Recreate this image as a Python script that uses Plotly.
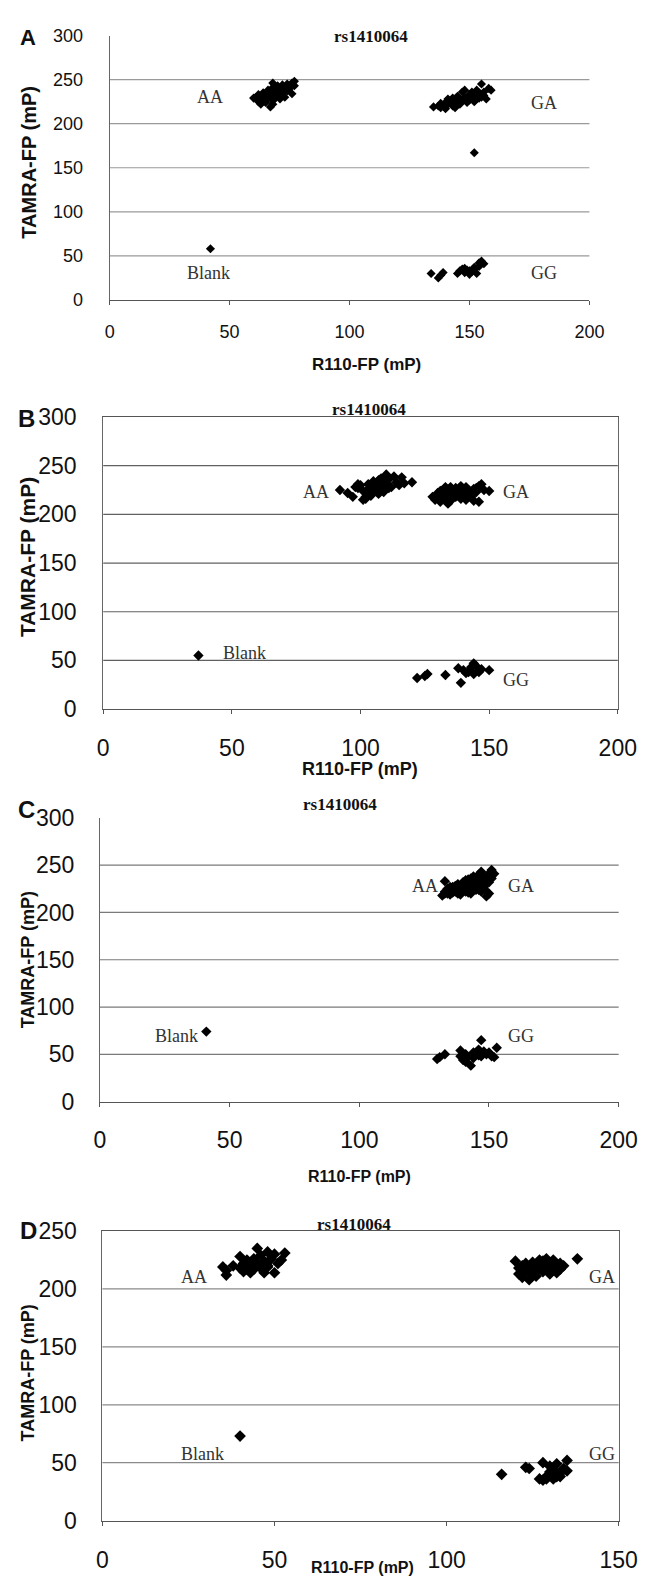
import plotly.graph_objects as go

W, H = 657, 1589

# ---------------- data ----------------
# Panel A
a_aa_x = [61, 62, 62, 63, 63, 64, 64, 65, 65, 66, 66, 67, 67, 68, 68, 68, 69, 69, 70, 70, 71, 71, 72, 72, 73, 73, 74, 74, 75, 76, 76, 77, 77, 62, 64, 66, 68, 70, 60]
a_aa_y = [230, 225, 233, 228, 222, 235, 226, 231, 224, 238, 229, 219, 233, 241, 226, 246, 236, 229, 243, 232, 239, 228, 244, 235, 241, 230, 237, 245, 240, 234, 246, 243, 248, 227, 233, 236, 222, 240, 229]
a_ga_x = [135, 137, 138, 139, 140, 140, 141, 142, 143, 143, 144, 145, 145, 146, 147, 147, 148, 148, 149, 150, 150, 151, 152, 152, 153, 154, 154, 155, 156, 157, 158, 159, 144, 146, 149, 151, 153, 155, 141, 138, 156]
a_ga_y = [219, 220, 218, 221, 217, 224, 222, 226, 220, 229, 225, 223, 231, 228, 236, 226, 230, 238, 224, 233, 227, 236, 231, 225, 238, 229, 235, 245, 232, 228, 240, 238, 218, 222, 229, 234, 228, 230, 228, 223, 236]
a_out_x = [152]
a_out_y = [167]
a_blank_x = [42]
a_blank_y = [58]
a_gg_x = [134, 137, 138, 139, 145, 146, 147, 148, 149, 150, 151, 152, 153, 154, 154, 155, 156, 148, 150, 152]
a_gg_y = [30, 25, 28, 31, 30, 33, 35, 31, 34, 29, 32, 35, 30, 42, 38, 44, 41, 36, 33, 37]

# Panel B
b_aa_x = [92, 95, 97, 98, 99, 100, 101, 101, 102, 103, 103, 104, 105, 105, 106, 107, 107, 108, 108, 109, 110, 110, 111, 112, 113, 114, 115, 116, 117, 120, 104, 106, 109, 111, 102, 99]
b_aa_y = [225, 222, 218, 228, 231, 230, 215, 224, 218, 231, 226, 219, 229, 234, 226, 221, 235, 229, 237, 223, 241, 232, 236, 228, 239, 233, 230, 238, 232, 233, 222, 228, 232, 227, 216, 227]
b_ga_x = [128, 129, 130, 131, 131, 132, 133, 133, 134, 135, 135, 136, 137, 137, 138, 139, 140, 140, 141, 142, 143, 144, 145, 146, 146, 147, 148, 150, 130, 132, 134, 136, 138, 141, 143, 145, 139, 144, 137, 133]
b_ga_y = [218, 215, 220, 213, 224, 219, 226, 216, 221, 228, 214, 222, 218, 227, 223, 216, 225, 220, 228, 222, 218, 226, 223, 229, 213, 231, 225, 224, 222, 217, 211, 224, 219, 215, 221, 227, 229, 214, 225, 228]
b_blank_x = [37]
b_blank_y = [55]
b_gg_x = [122, 125, 126, 133, 138, 139, 140, 142, 143, 144, 144, 145, 146, 147, 150, 141, 146]
b_gg_y = [32, 34, 36, 35, 42, 27, 40, 38, 43, 47, 36, 44, 40, 41, 40, 37, 38]

# Panel C (AA and GA overlap in one dense cloud)
c_aaga_x = [132, 133, 133, 134, 135, 135, 136, 136, 137, 137, 138, 138, 139, 139, 140, 140, 141, 141, 142, 142, 143, 143, 144, 144, 145, 145, 146, 146, 147, 147, 148, 148, 149, 149, 150, 150, 151, 151, 152, 139, 141, 143, 145, 147, 137, 140, 142, 144, 146, 148, 150, 138, 135, 149,
            134, 136, 138, 140, 142, 144, 146, 148, 150, 133, 135, 137, 139, 141, 143, 145, 147, 149, 151, 136, 139, 142, 145, 148, 151, 134, 138, 143, 147]
c_aaga_y = [218, 222, 233, 220, 224, 219, 226, 221, 228, 223, 220, 230, 225, 222, 232, 227, 224, 234, 228, 221, 236, 226, 231, 238, 229, 235, 240, 224, 233, 243, 238, 228, 236, 217, 241, 232, 245, 239, 241, 219, 222, 220, 226, 222, 225, 230, 235, 237, 233, 225, 220, 229, 227, 222,
            223, 224, 226, 229, 231, 233, 236, 235, 237, 220, 221, 222, 224, 226, 228, 231, 230, 232, 236, 227, 228, 225, 224, 227, 242, 225, 222, 234, 238]
c_blank_x = [41]
c_blank_y = [74]
c_gg_x = [130, 131, 133, 139, 139, 140, 141, 141, 142, 143, 144, 145, 146, 147, 147, 148, 149, 150, 151, 152, 153, 144, 146]
c_gg_y = [45, 47, 50, 54, 48, 44, 42, 50, 47, 38, 52, 50, 55, 65, 48, 53, 50, 52, 48, 47, 57, 46, 49]

# Panel D
d_aa_x = [35, 36, 36, 38, 40, 40, 41, 41, 42, 42, 43, 43, 44, 44, 45, 45, 46, 46, 47, 47, 48, 48, 49, 50, 50, 51, 52, 53, 42, 44, 46, 48, 41, 43]
d_aa_y = [219, 212, 216, 220, 228, 218, 215, 222, 219, 225, 214, 221, 226, 217, 235, 222, 220, 229, 214, 224, 232, 219, 226, 214, 230, 222, 225, 231, 217, 223, 218, 220, 216, 219]
d_ga_x = [120, 121, 121, 122, 122, 123, 123, 124, 124, 125, 125, 126, 126, 127, 127, 128, 128, 129, 129, 130, 130, 131, 131, 132, 132, 133, 133, 134, 138, 122, 124, 126, 128, 130, 125, 127]
d_ga_y = [224, 218, 213, 220, 210, 216, 222, 208, 219, 214, 223, 217, 211, 225, 220, 215, 222, 218, 226, 213, 221, 225, 217, 219, 214, 222, 217, 220, 226, 212, 215, 219, 224, 215, 221, 218]
d_blank_x = [40]
d_blank_y = [73]
d_gg_x = [116, 123, 124, 127, 128, 128, 129, 129, 130, 130, 131, 131, 132, 132, 133, 134, 135, 135, 130, 133]
d_gg_y = [40, 46, 45, 36, 35, 50, 38, 36, 47, 42, 44, 36, 38, 49, 41, 45, 52, 43, 40, 38]

# tick values
ticks_x200 = [0, 50, 100, 150, 200]
ticks_x150 = [0, 50, 100, 150]
ticks_y300 = [0, 50, 100, 150, 200, 250, 300]
ticks_y250 = [0, 50, 100, 150, 200, 250]
grid_y300 = [50, 100, 150, 200, 250]
grid_y250 = [50, 100, 150, 200]

panel_title = "rs1410064"
x_title = "R110-FP (mP)"
y_title = "TAMRA-FP (mP)"

# ---------------- figure ----------------
fig = go.Figure()


def px(x):
    return x / W


def py(y):
    return 1 - y / H


panels = [
    dict(k="", xd=(107.8, 606.5), yd=(22.9, 291.7), xr=[0, 200], yr=[0, 300],
         xt=ticks_x200, yt=ticks_y300, grid=grid_y300, box=False, tick=18, ms=7,
         gridc="#9a9a9a", ystand=22, xstand=11,
         series=[(a_aa_x, a_aa_y), (a_ga_x, a_ga_y), (a_out_x, a_out_y), (a_blank_x, a_blank_y), (a_gg_x, a_gg_y)],
         labels=[("AA", 42, 230), ("GA", 181, 223), ("Blank", 41, 31), ("GG", 181, 30)]),
    dict(k="2", xd=(101.1, 636.0), yd=(410.7, 707.7), xr=[0, 200], yr=[0, 300],
         xt=ticks_x200, yt=ticks_y300, grid=grid_y300, box=True, tick=23, ms=8,
         gridc="#606060", ystand=21, xstand=14,
         series=[(b_aa_x, b_aa_y), (b_ga_x, b_ga_y), (b_blank_x, b_blank_y), (b_gg_x, b_gg_y)],
         labels=[("AA", 82.7, 223), ("GA", 160.5, 223), ("Blank", 55, 58), ("GG", 160.5, 29.7)]),
    dict(k="3", xd=(97.7, 636.9), yd=(818.3, 1106.7), xr=[0, 200], yr=[0, 300],
         xt=ticks_x200, yt=ticks_y300, grid=grid_y300, box=False, tick=23, ms=8,
         gridc="#7a7a7a", ystand=20, xstand=14,
         series=[(c_aaga_x, c_aaga_y), (c_blank_x, c_blank_y), (c_gg_x, c_gg_y)],
         labels=[("AA", 125.3, 228), ("GA", 162.2, 228), ("Blank", 29.4, 69.4), ("GG", 162.5, 69.4)]),
    dict(k="4", xd=(100.2, 636.9), yd=(1238.3, 1532.7), xr=[0, 150], yr=[0, 250],
         xt=ticks_x150, yt=ticks_y250, grid=grid_y250, box=True, tick=23, ms=9,
         gridc="#8a8a8a", ystand=20, xstand=15,
         series=[(d_aa_x, d_aa_y), (d_ga_x, d_ga_y), (d_blank_x, d_blank_y), (d_gg_x, d_gg_y)],
         labels=[("AA", 26.5, 210), ("GA", 145.2, 210), ("Blank", 29.2, 57.5), ("GG", 145.2, 57.5)]),
]

axis_font = dict(family="Liberation Sans, Arial, sans-serif", color="#111")
layout_axes = {}
annotations = []
shapes = []

for p in panels:
    k = p["k"]
    xa = "xaxis" + k
    ya = "yaxis" + k
    xref = "x" + k
    yref = "y" + k
    for sx, sy in p["series"]:
        fig.add_trace(go.Scatter(
            x=sx, y=sy, mode="markers", xaxis=xref, yaxis=yref, showlegend=False,
            marker=dict(symbol="diamond", size=p["ms"], color="black", line=dict(width=0)),
            hoverinfo="x+y"))
    layout_axes[xa] = dict(
        domain=[px(p["xd"][0]), px(p["xd"][1])], range=p["xr"], anchor=yref,
        tickvals=p["xt"], ticks="outside", ticklen=4, tickcolor="#555",
        showgrid=False, zeroline=False, showline=True, linecolor="#555", linewidth=1,
        mirror=p["box"], ticklabelstandoff=p["xstand"],
        tickfont=dict(size=p["tick"], **axis_font), fixedrange=True)
    layout_axes[ya] = dict(
        domain=[py(p["yd"][1]), py(p["yd"][0])], range=p["yr"], anchor=xref,
        tickvals=p["yt"], ticks="", showgrid=False, zeroline=False,
        showline=True, linecolor="#666", linewidth=1, mirror=p["box"],
        ticklabelstandoff=p["ystand"],
        tickfont=dict(size=p["tick"], **axis_font), fixedrange=True)
    for g in p["grid"]:
        shapes.append(dict(type="line", xref=xref + " domain", yref=yref,
                           x0=0, x1=1, y0=g, y1=g,
                           line=dict(color=p["gridc"], width=1.2), layer="below"))
    for txt, lx, ly in p["labels"]:
        annotations.append(dict(text=txt, x=lx, y=ly, xref=xref, yref=yref, showarrow=False,
                                xanchor="center", yanchor="middle",
                                font=dict(family="Liberation Serif, Times New Roman, serif",
                                          size=18, color="#333")))


def ptext(text, x, y, size, bold=True, family="Liberation Sans, Arial, sans-serif", angle=0):
    t = "<b>%s</b>" % text if bold else text
    annotations.append(dict(text=t, x=px(x), y=py(y), xref="paper", yref="paper",
                            showarrow=False, xanchor="center", yanchor="middle",
                            textangle=angle, font=dict(family=family, size=size, color="#111")))


serif = "Liberation Serif, Times New Roman, serif"
# panel letters
ptext("A", 23, 25, 22)
ptext("B", 21, 412, 24)
ptext("C", 21, 810, 24)
ptext("D", 23, 1238, 24)
# panel titles
ptext(panel_title, 379, 24, 17, family=serif)
ptext(panel_title, 377, 403, 17, family=serif)
ptext(panel_title, 347, 805, 17, family=serif)
ptext(panel_title, 362, 1232, 17, family=serif)
# y titles
ptext(y_title, 23, 152, 20, angle=-90)
ptext(y_title, 23, 553, 21, angle=-90)
ptext(y_title, 23, 963, 18, angle=-90)
ptext(y_title, 23, 1383, 18, angle=-90)
# x titles
ptext(x_title, 375, 357, 17)
ptext(x_title, 368, 769, 18)
ptext(x_title, 368, 1183, 16)
ptext(x_title, 371, 1580, 16)

fig.update_layout(
    width=W, height=H, margin=dict(l=0, r=0, t=0, b=0),
    paper_bgcolor="white", plot_bgcolor="white",
    annotations=annotations, shapes=shapes, showlegend=False,
    **layout_axes)

fig.write_html("out.html", config={"displayModeBar": False},
               post_script="document.body.style.margin='0';document.body.style.overflow='hidden';")
